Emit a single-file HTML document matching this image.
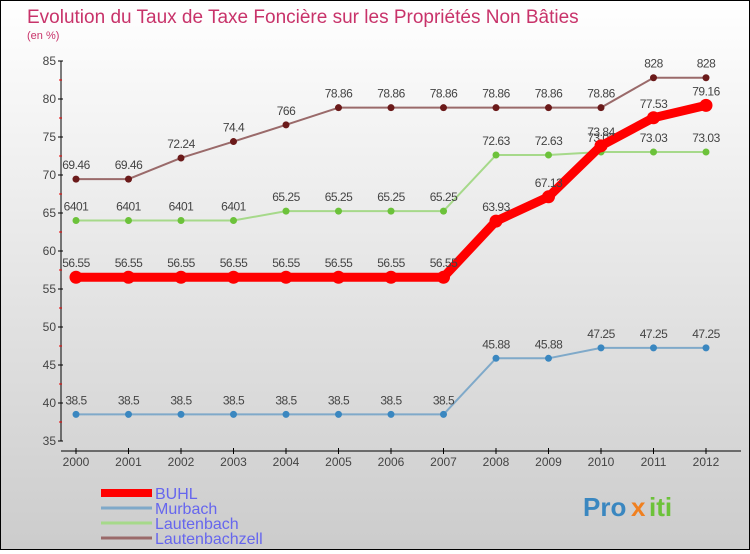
<!DOCTYPE html>
<html><head><meta charset="utf-8"><style>
html,body{margin:0;padding:0}
body{width:750px;height:550px;overflow:hidden;font-family:"Liberation Sans",sans-serif}
#wrap{position:relative;width:748px;height:548px;border:1px solid #000;background:linear-gradient(#fff,#ccc)}
</style></head><body>
<div id="wrap">
<svg id="chart" width="748" height="548">
<text x="26" y="22" font-size="19" fill="#c8336a">Evolution du Taux de Taxe Foncière sur les Propriétés Non Bâties</text>
<text x="26" y="38" font-size="11" fill="#c8336a">(en %)</text>
<g id="axes"></g><g id="series"></g><g id="legend"></g>
</svg>
</div>
<script>
const years=[2000,2001,2002,2003,2004,2005,2006,2007,2008,2009,2010,2011,2012];
const yTicks=[35,40,45,50,55,60,65,70,75,80,85];
const buhl=[56.55,56.55,56.55,56.55,56.55,56.55,56.55,56.55,63.93,67.13,73.84,77.53,79.16];
const murbach=[38.5,38.5,38.5,38.5,38.5,38.5,38.5,38.5,45.88,45.88,47.25,47.25,47.25];
const lautenbach=[64.01,64.01,64.01,64.01,65.25,65.25,65.25,65.25,72.63,72.63,73.03,73.03,73.03];
const lautenbachzell=[69.46,69.46,72.24,74.4,76.6,78.86,78.86,78.86,78.86,78.86,78.86,82.8,82.8];
const NS="http://www.w3.org/2000/svg";
function xS(i){return 75+i*52.5;}
function yS(v){return 60+(85-v)*7.6;}
function mk(tag,attrs,parent,txt){const e=document.createElementNS(NS,tag);for(const k in attrs)e.setAttribute(k,attrs[k]);if(txt!==undefined)e.textContent=txt;parent.appendChild(e);return e;}
function fmt(v){return String(v).replace(/\.?0+$/,'').replace('64.01','6401').replace('82.8','828').replace('76.6','766');}
const axes=document.getElementById('axes');
let ya=mk('line',{x1:60,y1:60,x2:60,y2:440,stroke:'#000'},axes);


yTicks.forEach((t,i)=>{
  mk('line',{x1:57,y1:yS(t),x2:62,y2:yS(t),stroke:'#000'},axes);
  if(i<yTicks.length-1)mk('line',{x1:58,y1:yS(t+2.5),x2:61,y2:yS(t+2.5),stroke:'#e00'},axes);
  const tl=mk('text',{x:55,y:yS(t)+4,'text-anchor':'end','font-size':12,fill:'#444'},axes,t);
  
  
});
let xa=mk('line',{x1:60,y1:450,x2:740,y2:450,stroke:'#000'},axes);


years.forEach((y,i)=>{
  mk('line',{x1:xS(i),y1:447,x2:xS(i),y2:453,stroke:'#000'},axes);
  const tl=mk('text',{x:xS(i),y:465,'text-anchor':'middle','font-size':12,fill:'#444'},axes,y);
  
  
});
const ser=document.getElementById('series');
function draw(vals,color,dot,w,r,name){
  const g=mk('g',{},ser);
  
  
  mk('polyline',{points:vals.map((v,i)=>xS(i)+','+yS(v)).join(' '),fill:'none',stroke:color,'stroke-width':w,'stroke-linejoin':'round'},g);
  vals.forEach((v,i)=>{
    const c=mk('circle',{cx:xS(i),cy:yS(v),r:r,fill:dot},g);
    
    
    const t=mk('text',{x:xS(i),y:yS(v)-10,'text-anchor':'middle','font-size':12,fill:'#444','letter-spacing':'-0.5'},g,fmt(v));
    
    
  });
}
draw(murbach,'#7fa9c9','#3a87c0',2,3.5,'murbach');
draw(lautenbach,'#a6d98a','#6cc23a',2,3.5,'lautenbach');
draw(lautenbachzell,'#9a6a6a','#6b1a1a',2,3.5,'lautenbachzell');
draw(buhl,'#f00','#f00',9,6.5,'buhl');
const leg=document.getElementById('legend');
[['BUHL','#f00',8],['Murbach','#7fa9c9',3],['Lautenbach','#a6d98a',3],['Lautenbachzell','#9a6a6a',3]].forEach((d,i)=>{
  const g=mk('g',{},leg);
  
  
  const y=492+i*15;
  mk('line',{x1:100,y1:y,x2:151,y2:y,stroke:d[1],'stroke-width':d[2]},g);
  mk('text',{x:154,y:y+6,'font-size':16,fill:'#6666ee'},g,d[0]);
});
const lg=mk('g',{},leg);


mk('text',{x:582,y:515,'font-size':26,'font-weight':'bold',fill:'#3a87c0'},lg,'Pro');
mk('text',{x:630,y:515,'font-size':26,'font-weight':'bold',fill:'#f08020'},lg,'x');
mk('text',{x:648,y:515,'font-size':26,'font-weight':'bold',fill:'#6cc23a'},lg,'iti');
</script>
</body></html>
